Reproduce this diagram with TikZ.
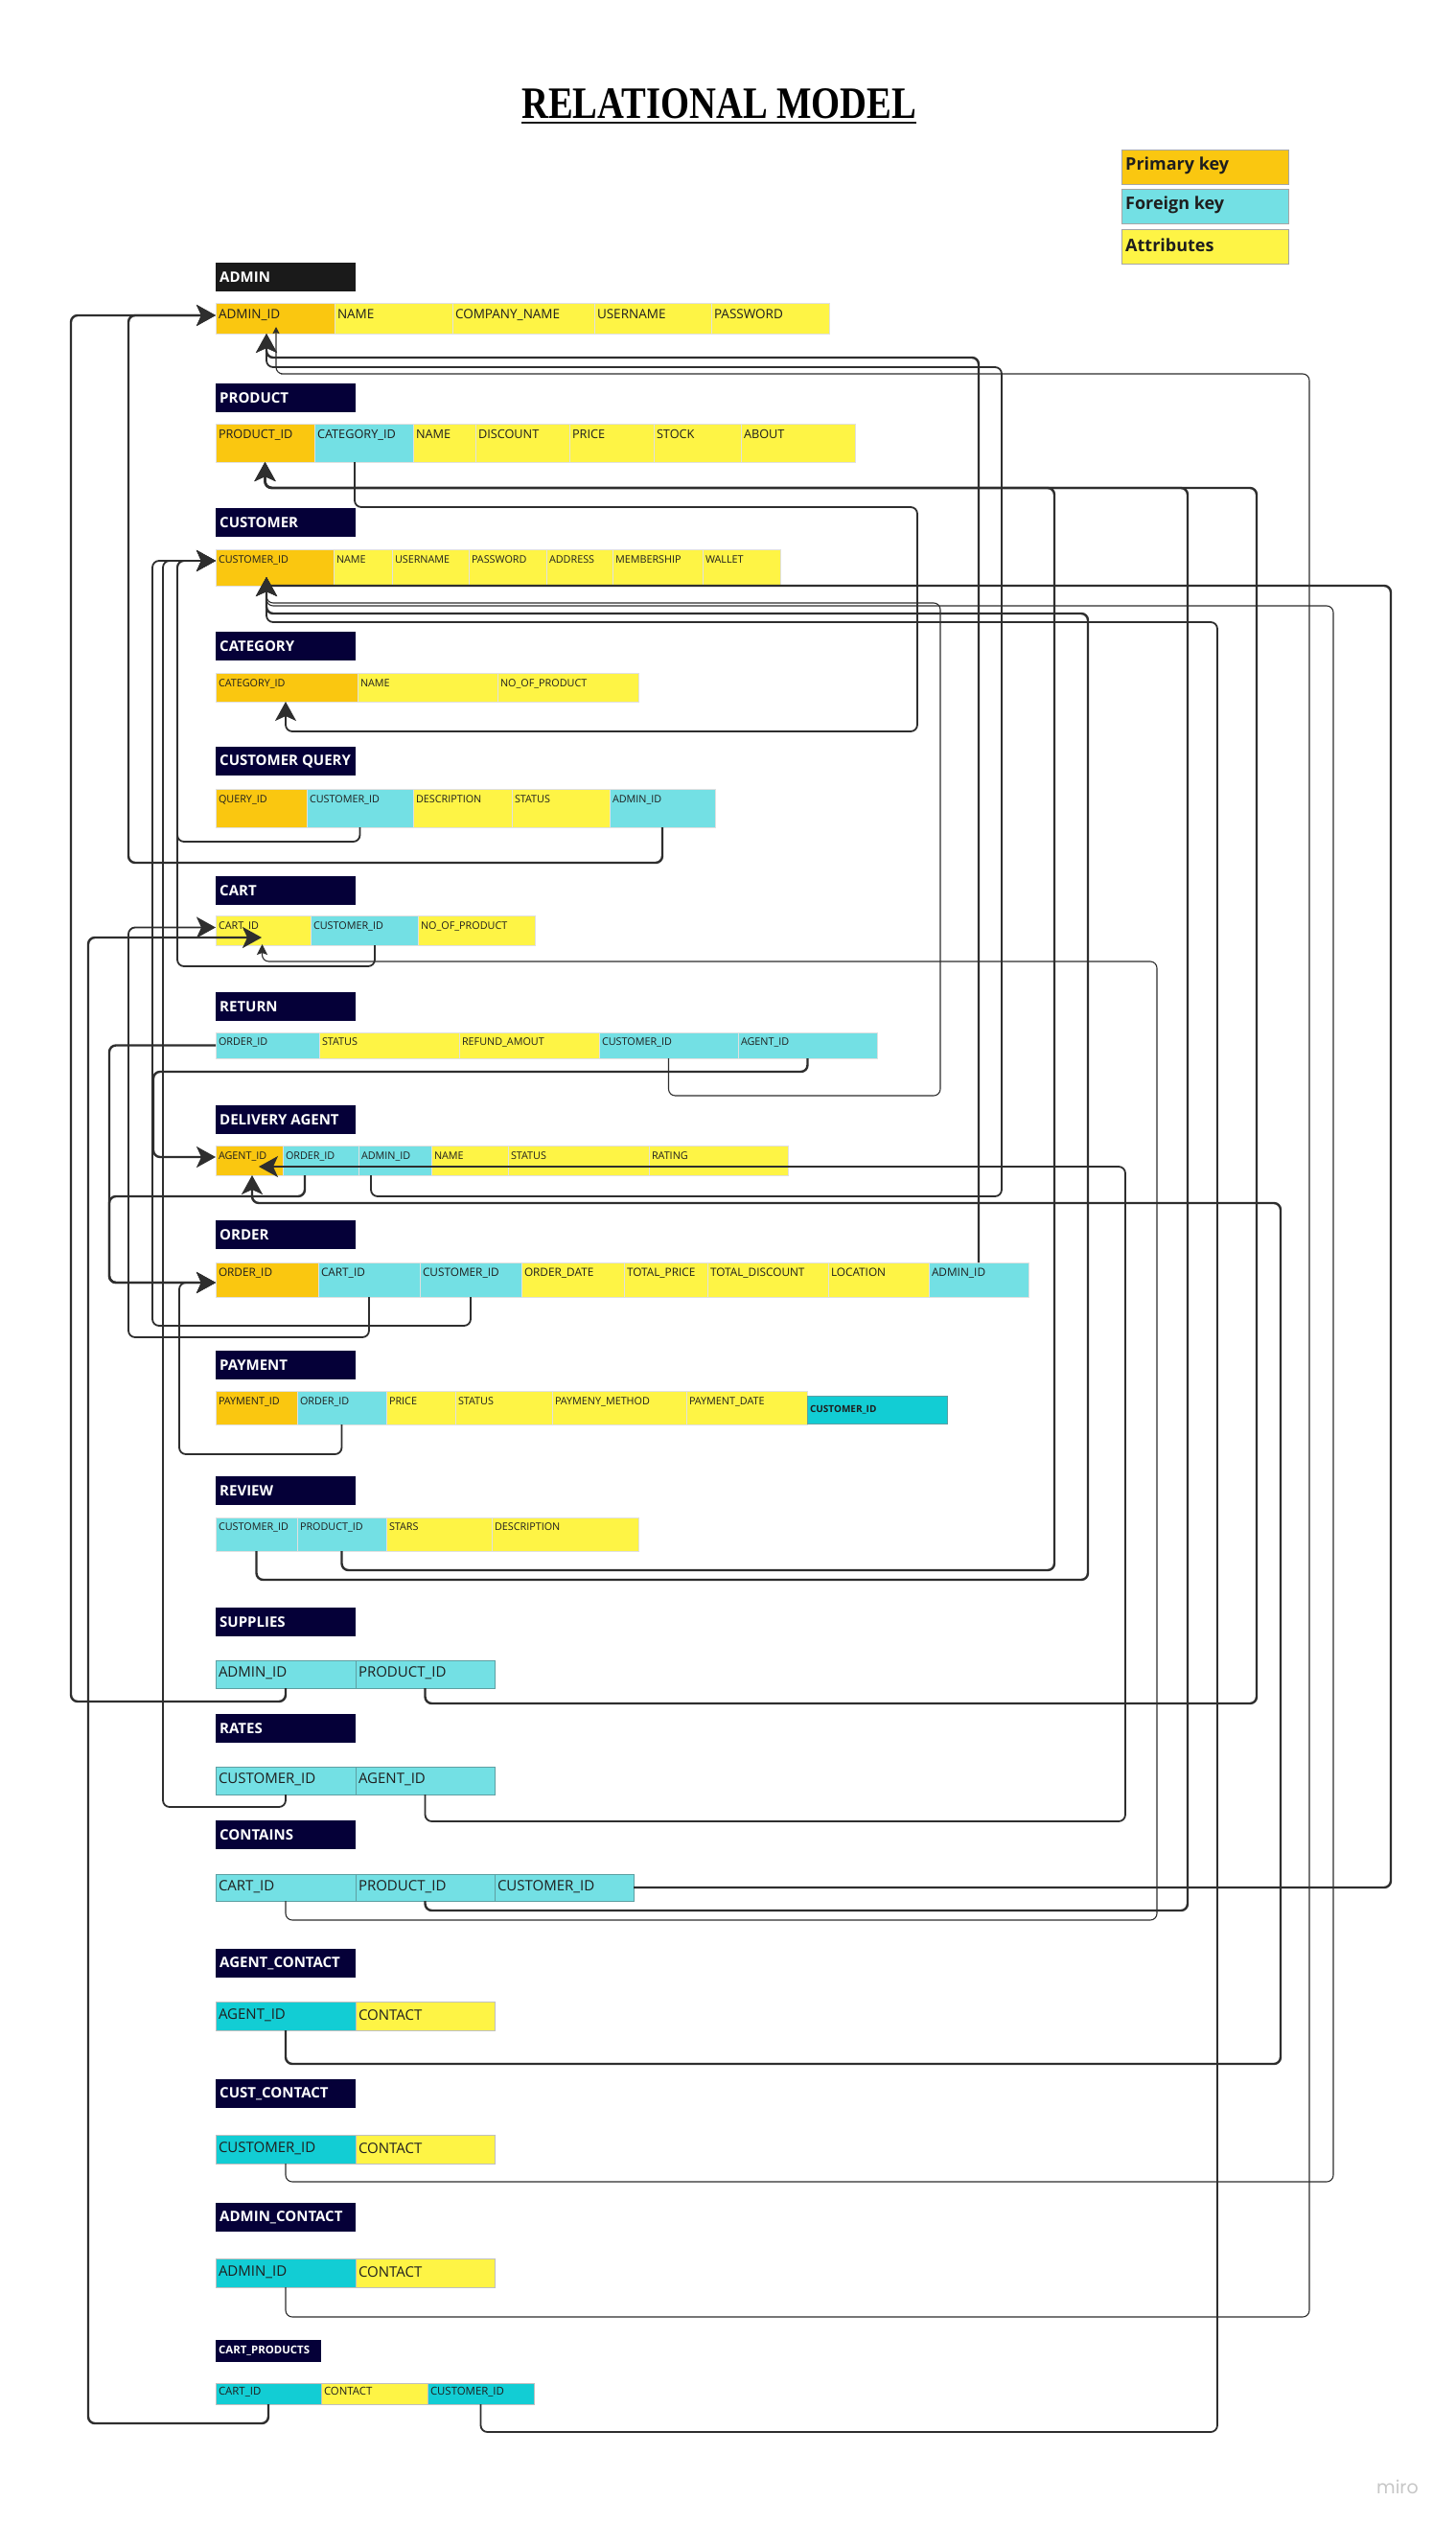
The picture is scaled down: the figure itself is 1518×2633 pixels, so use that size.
\documentclass[tikz,border=0pt]{standalone}
\usepackage{fontspec}
\setmainfont{Open Sans}
\newfontfamily\ttlfont{Liberation Serif}
\newfontfamily\wmfont{Poppins}
\usetikzlibrary{arrows.meta}
\definecolor{pk}{HTML}{FAC710}
\definecolor{fk}{HTML}{73E0E4}
\definecolor{attr}{HTML}{FEF445}
\definecolor{dcyan}{HTML}{12CDD4}
\definecolor{navy}{HTML}{050038}
\definecolor{hdrblk}{HTML}{1A1A1A}
\definecolor{lncol}{HTML}{2E2E2E}
\definecolor{txtcol}{HTML}{1E1E1E}
\definecolor{fkedge}{HTML}{5E9FA2}
\tikzset{
  cellbg/.style={draw=black!12, line width=0.6pt, inner sep=0pt, outer sep=0pt, anchor=north west},
  celltxt/.style={inner sep=0pt, outer sep=0pt, anchor=north west, text=txtcol},
  hdr/.style={inner sep=0pt, outer sep=0pt, anchor=north west, minimum width=146pt, minimum height=30pt},
  hdrtxt/.style={inner sep=0pt, anchor=west, text=white, font=\fontsize{15}{16}\selectfont\bfseries},
  legbox/.style={draw=black!35, line width=0.8pt, inner sep=0pt, outer sep=0pt, anchor=north west, minimum width=174pt, minimum height=36pt},
  legtxt/.style={inner sep=0pt, anchor=west, text=txtcol, font=\fontsize{18}{18}\selectfont\bfseries},
  conn/.style={draw=lncol, line width=1.8pt, rounded corners=7pt, -{Stealth[length=20pt,width=22pt,inset=5pt]}},
  noarrowconn/.style={draw=lncol, line width=2.2pt, rounded corners=7pt},
  lwA/.style={line width=2.4pt},
  lwB/.style={line width=1.8pt},
  lwC/.style={line width=1.1pt},
  smalltip/.style={-{Stealth[length=11pt,width=11pt,inset=2pt]}},
  tinytip/.style={-{Stealth[length=7pt,width=7pt,inset=1pt]}},
}
\newcommand{\mkhdr}[4]{%
  \node[hdr, fill=#4] (#1) at (225,#2) {};
  \node[hdrtxt] (#1-t) at ([xshift=4pt]#1.west) {#3};}
\newcommand{\tcell}[7]{%
  \pgfmathsetmacro{\cellw}{#3-#2}%
  \node[cellbg, fill=#6, minimum width=\cellw pt, minimum height=#5pt] (#1) at (#2,#4) {};
  \node[celltxt, font=\cellfont] (#1-t) at ([xshift=3pt,yshift=-\cellpad]#1.north west) {#7};}
\newcommand{\ccell}[7]{%
  \pgfmathsetmacro{\cellw}{#3-#2}%
  \node[cellbg, fill=#6, minimum width=\cellw pt, minimum height=#5pt] (#1) at (#2,#4) {};
  \node[celltxt, anchor=west, font=\cellfont] (#1-t) at ([xshift=3pt,yshift=\cellpad]#1.west) {#7};}
\begin{document}
\begin{tikzpicture}[x=1pt,y=-1pt]
\path[fill=white, use as bounding box] (0,0) rectangle (1518,2633);

% title
\node[anchor=north west, inner sep=0pt] (title) at (544,92) {\resizebox{412pt}{31pt}{\ttlfont\bfseries RELATIONAL MODEL}};
\draw[line width=2.6pt, black!90] ([yshift=-4pt]title.south west) -- ([yshift=-4pt]title.south east);

% legend
\node[legbox, fill=pk] (lg-pk) at (1170,156) {};
\node[legtxt] (lg-pk-t) at ([xshift=4pt,yshift=1pt]lg-pk.west) {Primary key};
\node[legbox, fill=fk] (lg-fk) at (1170,197) {};
\node[legtxt] (lg-fk-t) at ([xshift=4pt,yshift=1pt]lg-fk.west) {Foreign key};
\node[legbox, fill=attr] (lg-at) at (1170,239) {};
\node[legtxt] (lg-at-t) at ([xshift=4pt,yshift=1pt]lg-at.west) {Attributes};

% ADMIN
\mkhdr{h-admin}{274}{ADMIN}{hdrblk}
\def\cellfont{\fontsize{13.5}{15}\selectfont}\def\cellpad{7pt}
\tcell{a-id}{225}{349}{316}{32}{pk}{ADMIN\_ID}
\tcell{a-name}{349}{472}{316}{32}{attr}{NAME}
\tcell{a-comp}{472}{620}{316}{32}{attr}{COMPANY\_NAME}
\tcell{a-user}{620}{742}{316}{32}{attr}{USERNAME}
\tcell{a-pass}{742}{865}{316}{32}{attr}{PASSWORD}

% PRODUCT
\mkhdr{h-product}{400}{PRODUCT}{navy}
\def\cellfont{\fontsize{12.7}{14}\selectfont}\def\cellpad{6.5pt}
\tcell{p-id}{225}{328}{442}{40}{pk}{PRODUCT\_ID}
\tcell{p-cat}{328}{431}{442}{40}{fk}{CATEGORY\_ID}
\tcell{p-name}{431}{496}{442}{40}{attr}{NAME}
\tcell{p-disc}{496}{594}{442}{40}{attr}{DISCOUNT}
\tcell{p-price}{594}{682}{442}{40}{attr}{PRICE}
\tcell{p-stock}{682}{773}{442}{40}{attr}{STOCK}
\tcell{p-about}{773}{892}{442}{40}{attr}{ABOUT}

% CUSTOMER
\mkhdr{h-customer}{530}{CUSTOMER}{navy}
\def\cellfont{\fontsize{10.8}{12}\selectfont}\def\cellpad{7pt}
\tcell{c-id}{225}{348}{573}{38}{pk}{CUSTOMER\_ID}
\tcell{c-name}{348}{409}{573}{38}{attr}{NAME}
\tcell{c-user}{409}{489}{573}{38}{attr}{USERNAME}
\tcell{c-pass}{489}{570}{573}{38}{attr}{PASSWORD}
\tcell{c-addr}{570}{639}{573}{38}{attr}{ADDRESS}
\tcell{c-mem}{639}{733}{573}{38}{attr}{MEMBERSHIP}
\tcell{c-wal}{733}{814}{573}{38}{attr}{WALLET}

% CATEGORY
\mkhdr{h-category}{659}{CATEGORY}{navy}
\tcell{g-id}{225}{373}{702}{30}{pk}{CATEGORY\_ID}
\tcell{g-name}{373}{519}{702}{30}{attr}{NAME}
\tcell{g-num}{519}{666}{702}{30}{attr}{NO\_OF\_PRODUCT}

% CUSTOMER QUERY
\mkhdr{h-cq}{779}{CUSTOMER QUERY}{navy}
\def\cellpad{6.5pt}
\tcell{q-id}{225}{320}{823}{40}{pk}{QUERY\_ID}
\tcell{q-cust}{320}{431}{823}{40}{fk}{CUSTOMER\_ID}
\tcell{q-desc}{431}{534}{823}{40}{attr}{DESCRIPTION}
\tcell{q-stat}{534}{636}{823}{40}{attr}{STATUS}
\tcell{q-adm}{636}{746}{823}{40}{fk}{ADMIN\_ID}

% CART
\mkhdr{h-cart}{914}{CART}{navy}
\def\cellpad{7pt}
\tcell{k-id}{225}{324}{955}{31}{attr}{CART\_ID}
\tcell{k-cust}{324}{436}{955}{31}{fk}{CUSTOMER\_ID}
\tcell{k-num}{436}{558}{955}{31}{attr}{NO\_OF\_PRODUCT}

% RETURN
\mkhdr{h-return}{1035}{RETURN}{navy}
\def\cellpad{6pt}
\tcell{r-ord}{225}{333}{1077}{27}{fk}{ORDER\_ID}
\tcell{r-stat}{333}{479}{1077}{27}{attr}{STATUS}
\tcell{r-ref}{479}{625}{1077}{27}{attr}{REFUND\_AMOUT}
\tcell{r-cust}{625}{770}{1077}{27}{fk}{CUSTOMER\_ID}
\tcell{r-agent}{770}{915}{1077}{27}{fk}{AGENT\_ID}

% DELIVERY AGENT
\mkhdr{h-da}{1153}{DELIVERY AGENT}{navy}
\def\cellpad{7pt}
\tcell{d-id}{225}{295}{1195}{31}{pk}{AGENT\_ID}
\tcell{d-ord}{295}{374}{1195}{31}{fk}{ORDER\_ID}
\tcell{d-adm}{374}{450}{1195}{31}{fk}{ADMIN\_ID}
\tcell{d-name}{450}{530}{1195}{31}{attr}{NAME}
\tcell{d-stat}{530}{677}{1195}{31}{attr}{STATUS}
\tcell{d-rate}{677}{822}{1195}{31}{attr}{RATING}

% ORDER
\mkhdr{h-order}{1273}{ORDER}{navy}
\def\cellfont{\fontsize{11.8}{13}\selectfont}\def\cellpad{6pt}
\tcell{o-id}{225}{332}{1317}{36}{pk}{ORDER\_ID}
\tcell{o-cart}{332}{438}{1317}{36}{fk}{CART\_ID}
\tcell{o-cust}{438}{544}{1317}{36}{fk}{CUSTOMER\_ID}
\tcell{o-date}{544}{651}{1317}{36}{attr}{ORDER\_DATE}
\tcell{o-tp}{651}{738}{1317}{36}{attr}{TOTAL\_PRICE}
\tcell{o-td}{738}{864}{1317}{36}{attr}{TOTAL\_DISCOUNT}
\tcell{o-loc}{864}{969}{1317}{36}{attr}{LOCATION}
\tcell{o-adm}{969}{1073}{1317}{36}{fk}{ADMIN\_ID}

% PAYMENT
\mkhdr{h-payment}{1409}{PAYMENT}{navy}
\def\cellfont{\fontsize{10.8}{12}\selectfont}\def\cellpad{7pt}
\tcell{y-id}{225}{310}{1451}{35}{pk}{PAYMENT\_ID}
\tcell{y-ord}{310}{403}{1451}{35}{fk}{ORDER\_ID}
\tcell{y-price}{403}{475}{1451}{35}{attr}{PRICE}
\tcell{y-stat}{475}{576}{1451}{35}{attr}{STATUS}
\tcell{y-meth}{576}{716}{1451}{35}{attr}{PAYMENY\_METHOD}
\tcell{y-date}{716}{842}{1451}{35}{attr}{PAYMENT\_DATE}
\def\cellfont{\fontsize{10}{11}\selectfont\bfseries}\def\cellpad{0pt}
\ccell{y-cust}{842}{988}{1456}{29}{dcyan,draw=fkedge}{CUSTOMER\_ID}

% REVIEW
\mkhdr{h-review}{1540}{REVIEW}{navy}
\def\cellfont{\fontsize{10.8}{12}\selectfont}\def\cellpad{6pt}
\tcell{v-cust}{225}{310}{1583}{35}{fk}{CUSTOMER\_ID}
\tcell{v-prod}{310}{403}{1583}{35}{fk}{PRODUCT\_ID}
\tcell{v-stars}{403}{513}{1583}{35}{attr}{STARS}
\tcell{v-desc}{513}{666}{1583}{35}{attr}{DESCRIPTION}

% SUPPLIES
\mkhdr{h-supplies}{1677}{SUPPLIES}{navy}
\def\cellfont{\fontsize{15}{16}\selectfont}\def\cellpad{1pt}
\ccell{s-adm}{225}{371}{1732}{29}{fk,draw=fkedge}{ADMIN\_ID}
\ccell{s-prod}{371}{516}{1732}{29}{fk,draw=fkedge}{PRODUCT\_ID}

% RATES
\mkhdr{h-rates}{1788}{RATES}{navy}
\ccell{t-cust}{225}{371}{1843}{29}{fk,draw=fkedge}{CUSTOMER\_ID}
\ccell{t-agent}{371}{516}{1843}{29}{fk,draw=fkedge}{AGENT\_ID}

% CONTAINS
\mkhdr{h-contains}{1899}{CONTAINS}{navy}
\ccell{n-cart}{225}{371}{1955}{28}{fk,draw=fkedge}{CART\_ID}
\ccell{n-prod}{371}{516}{1955}{28}{fk,draw=fkedge}{PRODUCT\_ID}
\ccell{n-cust}{516}{661}{1955}{28}{fk,draw=fkedge}{CUSTOMER\_ID}

% AGENT_CONTACT
\mkhdr{h-ac}{2033}{AGENT\_CONTACT}{navy}
\ccell{ac-agent}{225}{371}{2088}{30}{dcyan,draw=black!25}{AGENT\_ID}
\ccell{ac-con}{371}{516}{2088}{30}{attr,draw=black!25}{CONTACT}

% CUST_CONTACT
\mkhdr{h-cc}{2169}{CUST\_CONTACT}{navy}
\ccell{cc-cust}{225}{371}{2227}{30}{dcyan,draw=black!25}{CUSTOMER\_ID}
\ccell{cc-con}{371}{516}{2227}{30}{attr,draw=black!25}{CONTACT}

% ADMIN_CONTACT
\mkhdr{h-dc}{2298}{ADMIN\_CONTACT}{navy}
\ccell{dc-adm}{225}{371}{2356}{30}{dcyan,draw=black!25}{ADMIN\_ID}
\ccell{dc-con}{371}{516}{2356}{30}{attr,draw=black!25}{CONTACT}

% CART_PRODUCTS
\node[hdr, fill=navy, minimum width=110pt, minimum height=23pt] (h-cp) at (225,2441) {};
\node[hdrtxt, font=\fontsize{11.4}{12}\selectfont\bfseries] (h-cp-t) at ([xshift=3pt]h-cp.west) {CART\_PRODUCTS};
\def\cellfont{\fontsize{11.4}{12}\selectfont}\def\cellpad{4pt}
\tcell{cp-cart}{225}{335}{2486}{22}{dcyan,draw=black!25}{CART\_ID}
\tcell{cp-con}{335}{446}{2486}{22}{attr,draw=black!25}{CONTACT}
\tcell{cp-cust}{446}{557}{2486}{22}{dcyan,draw=black!25}{CUSTOMER\_ID}

% watermark
\node[anchor=west, inner sep=0pt, text=black!22, font=\wmfont\fontsize{19}{19}\selectfont] (wm) at (1436,2594) {miro};

% ---------------- connectors ----------------
% to ADMIN_ID (left)
\draw[conn, lwA] (s-adm.south) |- (74,1775) |- ([yshift=3pt]a-id.west);
\draw[conn, lwA] (q-adm.south) |- (134,900) |- ([yshift=3pt]a-id.west);
% to ADMIN_ID (below)
\draw[conn, lwA] (o-adm.north) |- (300,373) -| ([xshift=-9pt]a-id.south);
\draw[conn, lwB] ([xshift=-25pt]d-adm.south) |- (1045,1248) |- (300,383) -| ([xshift=-9pt]a-id.south);
\draw[conn, lwC, tinytip] (dc-adm.south) |- (1366,2417) |- (300,390) -| ([xshift=1pt,yshift=7pt]a-id.south);

% to PRODUCT_ID
\draw[conn, lwA] (v-prod.south) |- (1100,1638) |- (300,509) -| (p-id.south);
\draw[conn, lwA] (s-prod.south) |- (1311,1777) |- (300,509) -| (p-id.south);
\draw[conn, lwA] (n-prod.south) |- (1239,1993) |- (300,509) -| (p-id.south);

% to CATEGORY_ID
\draw[conn, lwB] ([xshift=-9.5pt]p-cat.south) |- (957,529) |- (320,763) -| ([xshift=-1pt]g-id.south);

% to CUSTOMER_ID (left)
\draw[conn, lwB] (q-cust.south) |- (185,878) |- ([yshift=7pt]c-id.west);
\draw[conn, lwB] ([xshift=11pt]k-cust.south) |- (185,1008) |- ([yshift=7pt]c-id.west);
\draw[conn, lwB] (o-cust.south) |- (159,1383) |- ([yshift=7pt]c-id.west);
\draw[conn, lwB] (t-cust.south) |- (170,1885) |- ([yshift=7pt]c-id.west);

% to CUSTOMER_ID (below)
\draw[noarrowconn, lwA] (n-cust.east) -| (1451,700) |- ([xshift=-8.5pt]c-id.south);
\draw[conn, lwC] (r-cust.south) |- (981,1143) |- (300,629) -| ([xshift=-8.5pt,yshift=9pt]c-id.south);
\draw[conn, lwC] (cc-cust.south) |- (1391,2276) |- (300,632) -| ([xshift=-8.5pt,yshift=9pt]c-id.south);
\draw[conn, lwA] (v-cust.south) |- (1135,1648) |- (300,640) -| ([xshift=-8.5pt,yshift=9pt]c-id.south);
\draw[conn, lwB] (cp-cust.south) |- (1270,2537) |- (300,649) -| ([xshift=-8.5pt,yshift=9pt]c-id.south);

% to CART_ID
\draw[conn, lwB] (o-cart.south) |- (134,1395) |- ([yshift=3pt]k-id.west);
\draw[conn, lwA] (cp-cart.south) |- (92,2528) |- ([xshift=48pt,yshift=-7.5pt]k-id.west);
\draw[conn, lwC, smalltip] (n-cart.south) |- (1207,2003) |- (300,1003) -| ([xshift=-1pt,yshift=1pt]k-id.south);

% to AGENT_ID
\draw[conn, lwA] (r-agent.south) |- (160,1118) |- ([yshift=3.5pt]d-id.west);
\draw[conn, lwB] (t-agent.south) |- (1174,1900) |- ([xshift=10pt,yshift=9pt]d-id.south);
\draw[conn, lwA] (ac-agent.south) |- (1336,2153) |- (300,1255) -| ([xshift=3pt]d-id.south);

% to ORDER_ID
\draw[conn, lwA] (r-ord.west) -| (114,1300) |- ([yshift=-3pt]o-id.west);
\draw[conn, lwA] ([xshift=-16.5pt]d-ord.south) |- (114,1248) |- ([yshift=-3pt]o-id.west);
\draw[conn, lwB] (y-ord.south) |- (187,1517) |- ([yshift=-3pt]o-id.west);
\end{tikzpicture}
\end{document}
